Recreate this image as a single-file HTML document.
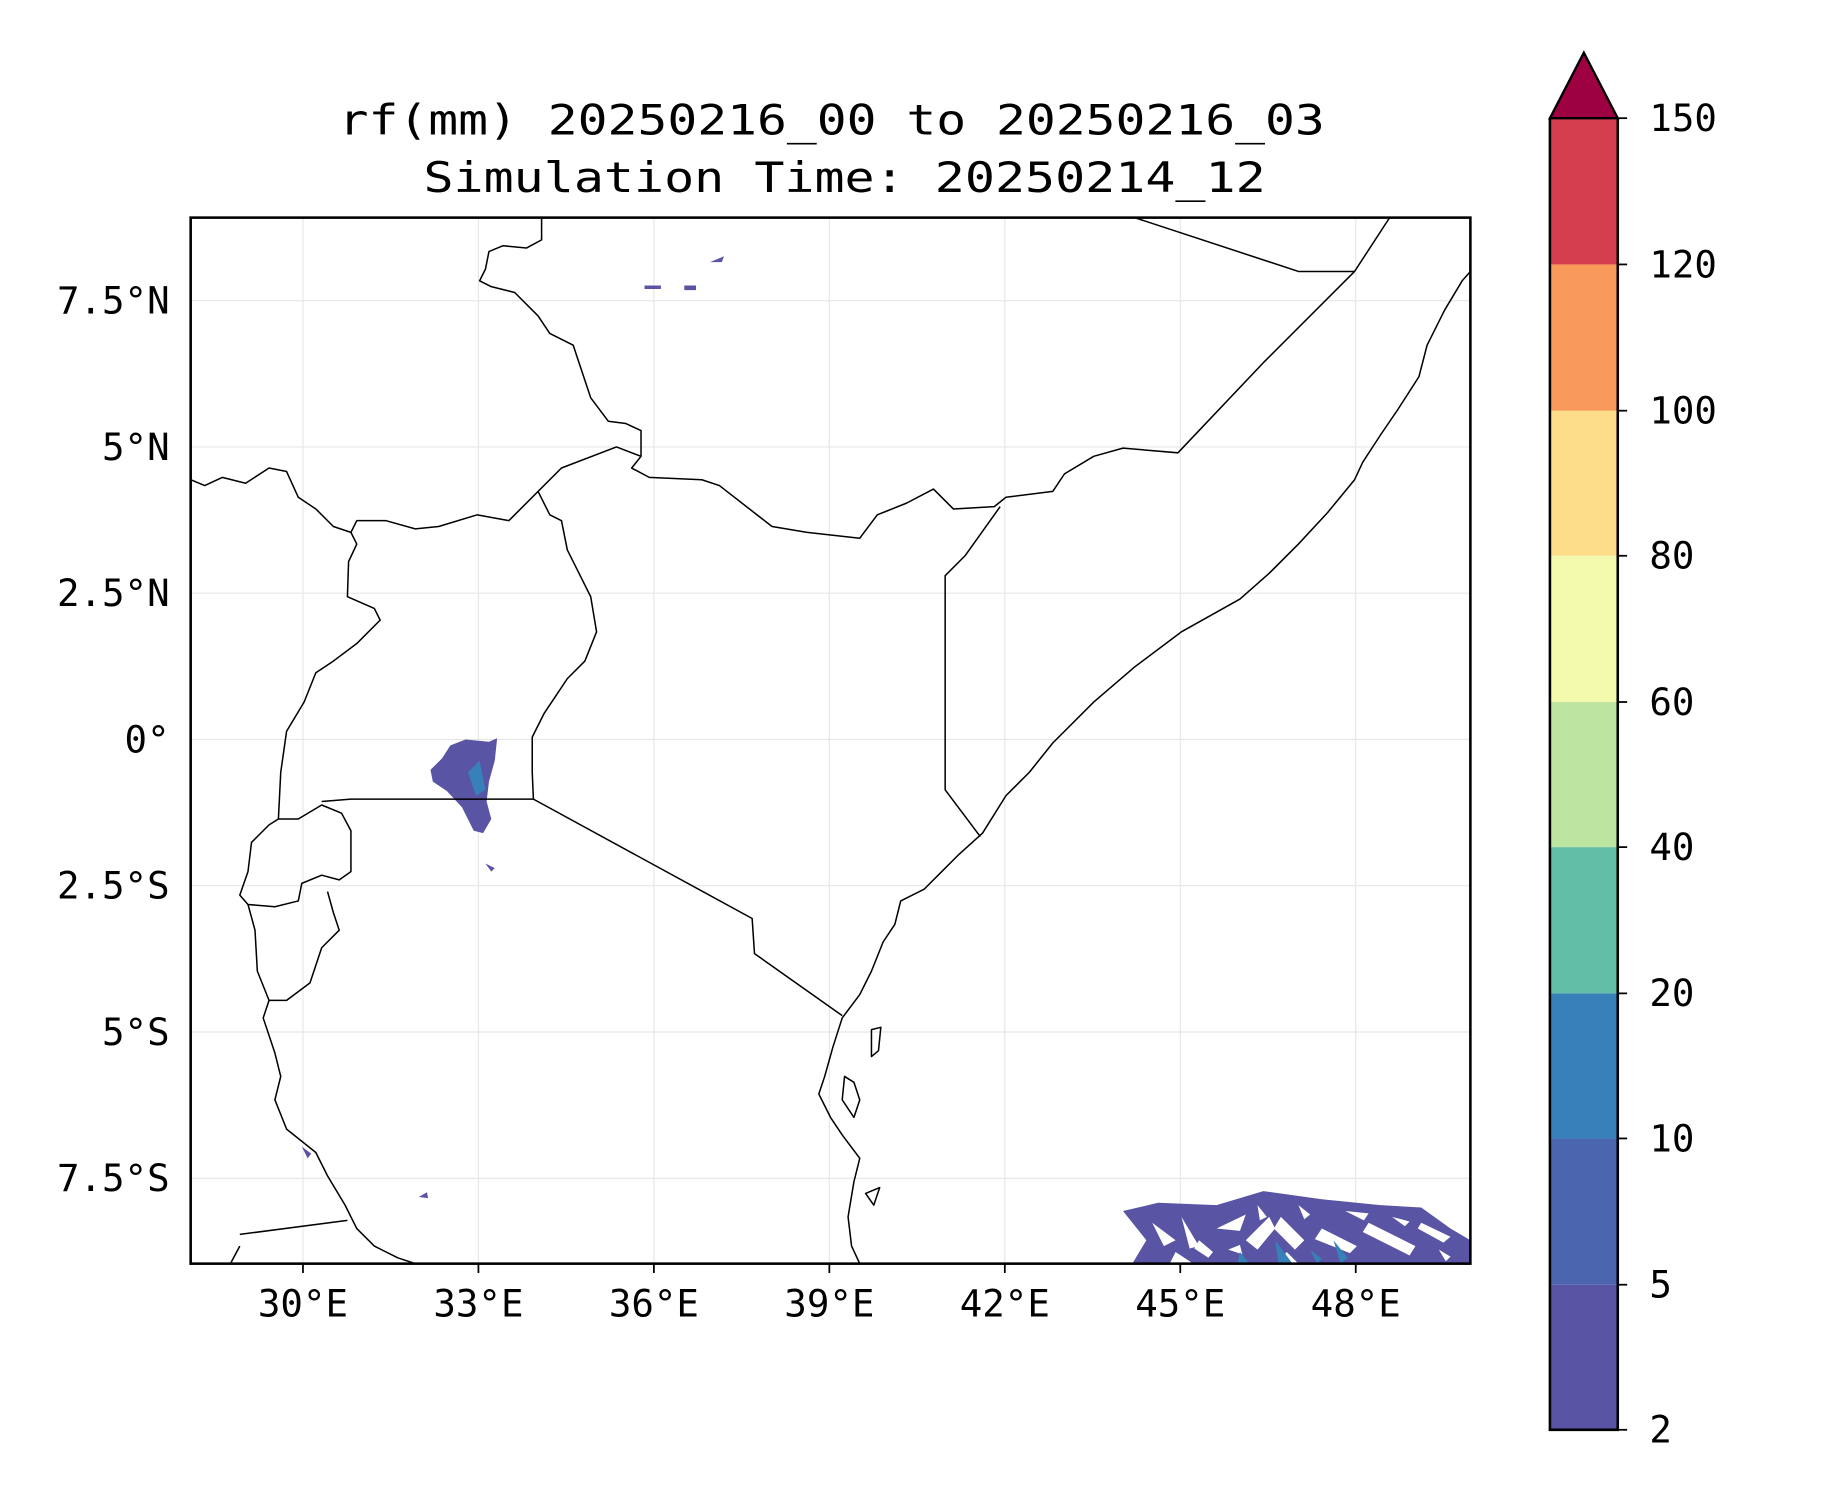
<!DOCTYPE html>
<html><head><meta charset="utf-8"><style>html,body{margin:0;padding:0;background:#fff}svg{display:block}</style></head>
<body>
<svg width="1833" height="1500" viewBox="0 0 1567 1282" preserveAspectRatio="none" xmlns="http://www.w3.org/2000/svg" font-family="DejaVu Sans Mono, Liberation Mono, monospace">
<rect width="1567" height="1282" fill="#fff"/>
<g font-size="36" text-anchor="middle" fill="#000">
<text x="711" y="115" textLength="843" lengthAdjust="spacingAndGlyphs">rf(mm) 20250216_00 to 20250216_03</text>
<text x="722" y="164" textLength="720" lengthAdjust="spacingAndGlyphs">Simulation Time: 20250214_12</text>
</g>
<g stroke="#e6e6e6" stroke-width="1">
<line x1="259" y1="186" x2="259" y2="1080"/><line x1="409" y1="186" x2="409" y2="1080"/><line x1="559" y1="186" x2="559" y2="1080"/><line x1="709" y1="186" x2="709" y2="1080"/><line x1="859" y1="186" x2="859" y2="1080"/><line x1="1009" y1="186" x2="1009" y2="1080"/><line x1="1159" y1="186" x2="1159" y2="1080"/>
<line x1="163" y1="257" x2="1257" y2="257"/><line x1="163" y1="382" x2="1257" y2="382"/><line x1="163" y1="507" x2="1257" y2="507"/><line x1="163" y1="632" x2="1257" y2="632"/><line x1="163" y1="757" x2="1257" y2="757"/><line x1="163" y1="882" x2="1257" y2="882"/><line x1="163" y1="1007" x2="1257" y2="1007"/>
</g>
<g fill="#5954a4">
<path d="M385,637 L398,632 L418,634 L425,631 L423,650 L418,668 L416,685 L420,700 L413,712 L405,710 L395,690 L382,676 L370,668 L368,658 L378,648 Z"/>
<path d="M551,244 h14 v3 h-14z M585,244 h10 v4 h-10z M607,224 l12,-5 l-2,5z M258,980 l8,6 l-3,4z M358,1023 l7,-4 l1,5z M415,738 l8,4 l-3,3z"/>
<path d="M960,1035 L990,1028 L1040,1030 L1080,1018 L1130,1025 L1180,1030 L1215,1032 L1240,1050 L1257,1060 L1257,1080 L968,1080 L980,1060 Z"/>
</g>
<g fill="#fff">
<path d="M985,1045 l20,15 l-10,5z M1010,1040 l15,25 l-8,2z M1040,1050 l25,-12 l-5,14z M1065,1060 l20,-20 l5,10 l-15,18z M1095,1040 l20,20 l-8,8 l-18,-18z M1130,1050 l30,15 l-6,6 l-30,-12z M1170,1045 l40,20 l-5,8 l-40,-20z M1005,1070 l15,10 h-20z M1100,1070 l10,10 h-18z M1215,1045 l25,12 l-6,5 l-22,-12z M1150,1035 l20,2 l-4,6z M960,1030 l-2,-4 h6z M1025,1060 l12,10 l-4,5 l-12,-8z M1075,1030 l8,10 l-6,3z M1110,1030 l10,8 l-5,4z M1190,1040 l15,4 l-4,4z M1230,1068 l10,6 l-4,4z M1050,1068 l10,-4 l2,8z"/>
</g>
<g fill="#3880b9">
<path d="M400,660 l10,-10 l5,25 l-8,5z M1090,1060 l15,20 h-12z M1140,1060 l12,15 l-6,5z M1060,1070 l8,10 h-10z M1120,1068 l10,8 l-4,4z"/>
</g>
<g fill="none" stroke="#000" stroke-width="1.3" stroke-linejoin="round">
<polyline points="1257,232 1250,240 1235,265 1220,295 1213,322 1195,350 1180,372 1165,395 1158,410 1135,438 1110,465 1085,490 1060,512 1010,540 970,570 935,600 900,635 880,660 860,680 840,712 820,730 805,745 790,760 770,770 765,790 755,805 745,830 735,850 720,870 712,895 705,920 700,935 710,955 720,970 735,990 730,1010 725,1040 728,1065 735,1080"/>
<polyline points="463,186 463,205 450,212 430,210 418,215 415,230 410,240 420,245 440,250 460,270 470,285 490,295 495,310 505,340 520,360 535,362 548,368 548,390 540,400 555,408 600,410 615,415 660,450 690,455 735,460 750,440 775,430 798,418 815,435 850,433 860,425 900,420 910,405 935,390 960,383 1007,387 1080,310 1158,232 1188,186"/>
<polyline points="970,186 1110,232 1158,232"/>
<polyline points="855,433 825,475 808,492 808,675 838,715"/>
<polyline points="163,410 175,415 190,408 210,413 230,400 245,403 255,425 270,435 285,450 300,455 305,445 330,445 355,452 375,450 408,440 435,445 480,400 527,382 548,390"/>
<polyline points="460,420 470,440 480,445 485,470 495,490 505,510 510,540 500,565 485,580 475,595 465,610 455,630 455,660 456,683"/>
<polyline points="300,455 305,465 298,480 297,510 320,520 325,530 305,550 285,565 270,575 260,600 245,625 240,660 238,700"/>
<polyline points="275,685 300,683 456,683 643,785 645,815 720,868"/>
<polyline points="238,700 230,705 215,720 212,745 205,765 212,773 235,775 255,770 258,755 275,748 290,752 300,745 300,710 292,695 275,688 255,700 238,700"/>
<polyline points="212,773 218,795 220,830 230,855 245,855 265,840 275,810 290,795 285,780 280,762"/>
<polyline points="230,855 225,870 235,900 240,920 235,940 245,965 270,985 280,1005 295,1030 305,1050 320,1065 340,1075 355,1080"/>
<polyline points="205,1055 297,1043"/>
<polyline points="197,1080 205,1065"/>
<path d="M745,880 l8,-2 l-2,20 l-6,5 z M722,920 l8,5 l5,15 l-5,15 l-10,-15z M740,1020 l12,-5 l-5,15z"/>
</g>
<rect x="163" y="186" width="1094" height="894" fill="none" stroke="#000" stroke-width="2.2"/>
<g stroke="#000" stroke-width="1.5">
<line x1="259" y1="1080" x2="259" y2="1088"/><line x1="409" y1="1080" x2="409" y2="1088"/><line x1="559" y1="1080" x2="559" y2="1088"/><line x1="709" y1="1080" x2="709" y2="1088"/><line x1="859" y1="1080" x2="859" y2="1088"/><line x1="1009" y1="1080" x2="1009" y2="1088"/><line x1="1159" y1="1080" x2="1159" y2="1088"/>
</g>
<g font-size="32" fill="#000" text-anchor="middle">
<text x="259" y="1125">30°E</text><text x="409" y="1125">33°E</text><text x="559" y="1125">36°E</text><text x="709" y="1125">39°E</text><text x="859" y="1125">42°E</text><text x="1009" y="1125">45°E</text><text x="1159" y="1125">48°E</text>
</g>
<g font-size="32" fill="#000" text-anchor="end">
<text x="145" y="268">7.5°N</text><text x="145" y="393">5°N</text><text x="145" y="518">2.5°N</text><text x="145" y="643">0°</text><text x="145" y="768">2.5°S</text><text x="145" y="893">5°S</text><text x="145" y="1018">7.5°S</text>
</g>
<g>
<rect x="1325" y="1098" width="58" height="124" fill="#5954a4"/>
<rect x="1325" y="973" width="58" height="125" fill="#4b65ae"/>
<rect x="1325" y="849" width="58" height="124" fill="#3880b9"/>
<rect x="1325" y="724" width="58" height="125" fill="#62bea6"/>
<rect x="1325" y="600" width="58" height="124" fill="#bde4a0"/>
<rect x="1325" y="475" width="58" height="125" fill="#f3faad"/>
<rect x="1325" y="351" width="58" height="124" fill="#fddd88"/>
<rect x="1325" y="226" width="58" height="125" fill="#fa9a5a"/>
<rect x="1325" y="101" width="58" height="125" fill="#d53e4f"/>
<polygon points="1325,101 1354,45 1383,101" fill="#9e0142" stroke="#000" stroke-width="2"/>
<polyline points="1325,101 1325,1222 1383,1222 1383,101" fill="none" stroke="#000" stroke-width="2.2"/>
</g>
<g stroke="#000" stroke-width="1.5">
<line x1="1383" y1="101" x2="1391" y2="101"/><line x1="1383" y1="226" x2="1391" y2="226"/><line x1="1383" y1="351" x2="1391" y2="351"/><line x1="1383" y1="475" x2="1391" y2="475"/><line x1="1383" y1="600" x2="1391" y2="600"/><line x1="1383" y1="724" x2="1391" y2="724"/><line x1="1383" y1="849" x2="1391" y2="849"/><line x1="1383" y1="973" x2="1391" y2="973"/><line x1="1383" y1="1098" x2="1391" y2="1098"/><line x1="1383" y1="1222" x2="1391" y2="1222"/>
</g>
<g font-size="32" fill="#000">
<text x="1410" y="112">150</text><text x="1410" y="237">120</text><text x="1410" y="362">100</text><text x="1410" y="486">80</text><text x="1410" y="611">60</text><text x="1410" y="735">40</text><text x="1410" y="860">20</text><text x="1410" y="984">10</text><text x="1410" y="1109">5</text><text x="1410" y="1233">2</text>
</g>
</svg>
</body></html>
